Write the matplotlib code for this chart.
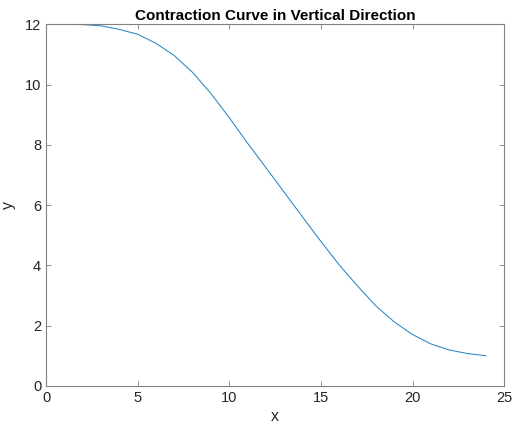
import matplotlib.pyplot as plt

plt.rcParams['font.family'] = ['Liberation Sans', 'DejaVu Sans']

x = list(range(1, 25))
y = [12.0, 11.99, 11.95, 11.83, 11.67, 11.37, 10.96, 10.40, 9.70, 8.90,
     8.05, 7.24, 6.42, 5.60, 4.79, 4.01, 3.31, 2.65, 2.12, 1.70,
     1.39, 1.19, 1.07, 1.0]

xticks = [0, 5, 10, 15, 20, 25]
yticks = [0, 2, 4, 6, 8, 10, 12]

fig = plt.figure(figsize=(5.13, 4.34), dpi=100)
ax = fig.add_axes([0.0897, 0.111, 0.8933, 0.833])

ax.plot(x, y, color='#2a86c4', linewidth=0.75)
ax.set_xlim(0, 25)
ax.set_ylim(0, 12)
ax.set_xticks(xticks)
ax.set_yticks(yticks)

gray = '#262626'
for s in ax.spines.values():
    s.set_color('#808080')
    s.set_linewidth(0.8)
ax.tick_params(direction='in', top=True, right=True, length=3.5, width=0.6,
               colors='#808080', labelcolor=gray, labelsize=10.5)

ax.set_title('Contraction Curve in Vertical Direction', fontsize=11,
             fontweight='bold', pad=3)
ax.set_xlabel('x', fontsize=11.5, color=gray, labelpad=3)
ax.set_ylabel('y', fontsize=11.5, color=gray, labelpad=6)

fig.savefig('out.png', dpi=100)
